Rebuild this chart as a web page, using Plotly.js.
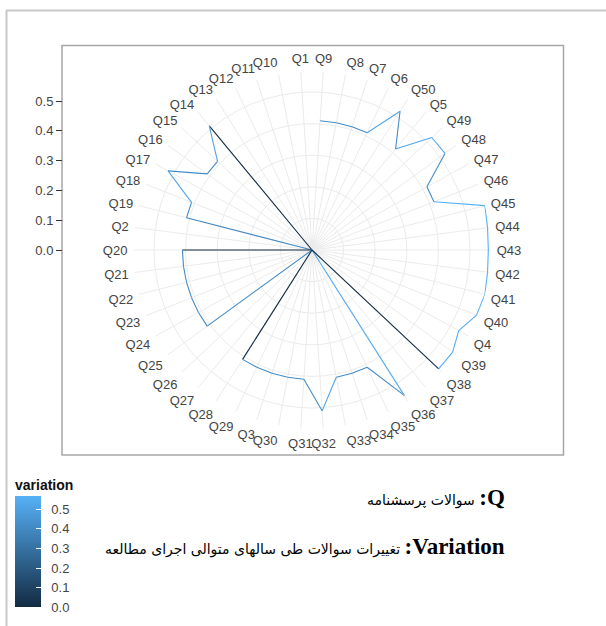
<!DOCTYPE html>
<html>
<head>
<meta charset="utf-8">
<script src="https://cdn.plot.ly/plotly-3.0.1.min.js"></script>
<style>
  html, body { margin: 0; padding: 0; background: #ffffff; }
  #chart { width: 606px; height: 626px; }
</style>
</head>
<body>
<div id="chart"></div>
<script>
// Questions in the order used around the circle (alphabetical factor levels)
const questions = ['Q1','Q10','Q11','Q12','Q13','Q14','Q15','Q16','Q17','Q18','Q19',
  'Q2','Q20','Q21','Q22','Q23','Q24','Q25','Q26','Q27','Q28','Q29',
  'Q3','Q30','Q31','Q32','Q33','Q34','Q35','Q36','Q37','Q38','Q39',
  'Q4','Q40','Q41','Q42','Q43','Q44','Q45','Q46','Q47','Q48','Q49',
  'Q5','Q50','Q6','Q7','Q8','Q9'];

// Variation of each question
const variation = [0, 0, 0, 0, 0, 0.51, 0.41, 0.41, 0.52, 0.41, 0.41,
  0, 0.41, 0.41, 0.41, 0.41, 0.41, 0.41, 0, 0, 0.41, 0.41,
  0.41, 0.41, 0.41, 0.51, 0.41, 0.41, 0.41, 0.545, 0, 0.55, 0.55,
  0.53, 0.56, 0.565, 0.56, 0.558, 0.56, 0.565, 0.415, 0.415, 0.52, 0.52,
  0.415, 0.52, 0.41, 0.41, 0.41, 0.41];

const radialTicks = [0, 0.1, 0.2, 0.3, 0.4, 0.5];
const radialTickText = ['0.0', '0.1', '0.2', '0.3', '0.4', '0.5'];

const legendTitle = 'variation';
const noteQ = 'سوالات پرسشنامه';
const noteVar = 'تغییرات سوالات طی سالهای متوالی اجرای مطالعه';

// ---- styling helpers ----
const W = 606, H = 626;
const lowCol = [19, 43, 67];    // #132B43
const highCol = [86, 177, 247]; // #56B1F7
const vmin = 0;
const vmax = Math.max(...variation);
function colorFor(v) {
  const t = Math.max(0, Math.min(1, (v - vmin) / (vmax - vmin)));
  const c = lowCol.map((a, i) => Math.round(a + (highCol[i] - a) * t));
  return 'rgb(' + c.join(',') + ')';
}
const px = x => x / W;
const py = y => (H - y) / H;

// polar geometry
const cx = 312, cy = 250;
const k = 316;                 // px per unit of variation
const R = vmax * k;

const traces = [];
for (let i = 0; i < questions.length - 1; i++) {
  traces.push({
    type: 'scatterpolar',
    subplot: 'polar',
    theta: [questions[i], questions[i + 1]],
    r: [variation[i], variation[i + 1]],
    mode: 'lines',
    line: { color: colorFor(variation[i]), width: 1.1 },
    hoverinfo: 'skip',
    showlegend: false
  });
}
// colour scale host (invisible markers on the data)
const nb = '\u00a0\u00a0';
traces.push({
  type: 'scatterpolar',
  subplot: 'polar',
  theta: questions,
  r: variation,
  mode: 'markers',
  hoverinfo: 'skip',
  showlegend: false,
  marker: {
    size: 2, opacity: 0,
    color: variation, cmin: vmin, cmax: vmax,
    colorscale: [[0, '#132B43'], [1, '#56B1F7']],
    showscale: true,
    colorbar: {
      x: px(15), xanchor: 'left', xref: 'paper',
      y: py(607.3), yanchor: 'bottom', yref: 'paper',
      len: vmax * 196, lenmode: 'pixels',
      thickness: 26, thicknessmode: 'pixels',
      xpad: 0, ypad: 0,
      outlinewidth: 0,
      tickvals: radialTicks, ticktext: radialTickText.map(t => nb + t),
      ticks: 'inside', ticklen: 5, tickcolor: '#ffffff', tickwidth: 1,
      tickfont: { size: 13, color: '#444444' },
      title: { text: '' }
    }
  }
});
// host for the left radial scale
traces.push({
  type: 'scatter', x: [], y: [], xaxis: 'x', yaxis: 'y',
  hoverinfo: 'skip', showlegend: false
});

const kAxis = 299, axis0 = 250.5;

const layout = {
  width: W, height: H,
  margin: { l: 0, r: 0, t: 0, b: 0, pad: 0 },
  paper_bgcolor: '#ffffff',
  plot_bgcolor: 'rgba(0,0,0,0)',
  font: { family: 'Liberation Sans, Arial, sans-serif', color: '#444444', size: 13 },
  showlegend: false,
  polar: {
    domain: { x: [px(cx - R), px(cx + R)], y: [py(cy + R), py(cy - R)] },
    bgcolor: 'rgba(0,0,0,0)',
    angularaxis: {
      type: 'category',
      categoryorder: 'array',
      categoryarray: questions,
      direction: 'counterclockwise',
      rotation: 90 + 360 / questions.length / 2,
      showline: false,
      gridcolor: '#ebebeb', gridwidth: 1,
      ticks: 'outside', ticklen: 3, tickcolor: 'rgba(0,0,0,0)',
      tickfont: { size: 13, color: '#444444' }
    },
    radialaxis: {
      range: [0, vmax],
      tickvals: radialTicks,
      showticklabels: false,
      ticks: '',
      showline: false,
      gridcolor: '#ebebeb', gridwidth: 1
    }
  },
  xaxis: { visible: false, domain: [0, 1], range: [0, 1], fixedrange: true },
  yaxis: {
    domain: [0, 1],
    anchor: 'free', position: px(62), side: 'left',
    range: [-(H - axis0) / kAxis, axis0 / kAxis],
    tickvals: radialTicks, ticktext: radialTickText,
    ticks: 'outside', ticklen: 6, tickcolor: '#333333', tickwidth: 1,
    tickfont: { size: 13, color: '#444444' },
    showgrid: false, zeroline: false, showline: false, fixedrange: true
  },
  shapes: [
    { type: 'line', xref: 'paper', yref: 'paper', x0: px(6), x1: 1, y0: py(10.5), y1: py(10.5),
      line: { color: '#c8c8c8', width: 2 } },
    { type: 'line', xref: 'paper', yref: 'paper', x0: px(6.5), x1: px(6.5), y0: py(10), y1: 0,
      line: { color: '#c8c8c8', width: 2 } },
    { type: 'rect', xref: 'paper', yref: 'paper', x0: px(62), x1: px(563.5), y0: py(455), y1: py(45.5),
      line: { color: '#a6a6a6', width: 1.5 }, layer: 'below' }
  ],
  annotations: [
    { xref: 'paper', yref: 'paper', x: px(13), y: py(485), xanchor: 'left', yanchor: 'middle',
      text: '<b>' + legendTitle + '</b>', showarrow: false,
      font: { size: 14, color: '#111111', family: 'Liberation Sans, Arial, sans-serif' } },
    { xref: 'paper', yref: 'paper', x: px(507), y: py(497), xanchor: 'right', yanchor: 'middle',
      text: noteQ + ' <span style="font-family:Liberation Serif;font-weight:bold;font-size:23px">:Q</span>',
      showarrow: false,
      font: { size: 14, color: '#000000', family: 'DejaVu Sans, sans-serif' } },
    { xref: 'paper', yref: 'paper', x: px(507), y: py(546), xanchor: 'right', yanchor: 'middle',
      text: noteVar + ' <span style="font-family:Liberation Serif;font-weight:bold;font-size:23px">:Variation</span>',
      showarrow: false,
      font: { size: 14, color: '#000000', family: 'DejaVu Sans, sans-serif' } }
  ]
};

Plotly.newPlot('chart', traces, layout, { staticPlot: true, displayModeBar: false });
</script>
</body>
</html>
